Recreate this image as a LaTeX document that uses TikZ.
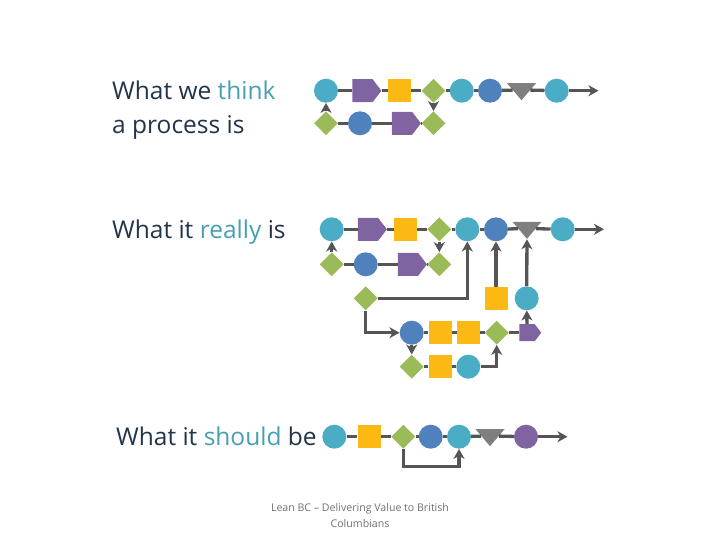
\documentclass[tikz,border=0pt]{standalone}
\usepackage{fontspec}
\setmainfont{Open Sans}
\usetikzlibrary{shapes.geometric,shapes.symbols,arrows.meta}
\definecolor{cteal}{HTML}{4BACC6}
\definecolor{cblue}{HTML}{4F81BD}
\definecolor{cpurple}{HTML}{8064A2}
\definecolor{cyellow}{HTML}{FDB913}
\definecolor{cgreen}{HTML}{9BBB59}
\definecolor{cgray}{HTML}{7F7F7F}
\definecolor{cline}{HTML}{555555}
\definecolor{ctext}{HTML}{22344A}
\definecolor{chl}{HTML}{479FB2}
\definecolor{cfoot}{HTML}{707070}
\tikzset{
  tcirc/.style={circle,fill=cteal,minimum size=24pt,inner sep=0pt},
  bcirc/.style={circle,fill=cblue,minimum size=24pt,inner sep=0pt},
  pcirc/.style={circle,fill=cpurple,minimum size=24pt,inner sep=0pt},
  ysq/.style={rectangle,fill=cyellow,minimum size=23pt,inner sep=0pt},
  gdia/.style={diamond,fill=cgreen,minimum size=24pt,inner sep=0pt},
  ppent/.style={signal,signal to=east,fill=cpurple,minimum width=29pt,minimum height=23pt,inner sep=0pt,signal pointer angle=105},
  gtri/.style={isosceles triangle,shape border rotate=-90,isosceles triangle stretches,fill=cgray,minimum width=29pt,minimum height=17pt,inner sep=0pt},
  conn/.style={draw=cline,line width=3.3pt},
  arr/.style={conn,-{Stealth[length=10pt,width=11pt,inset=3pt]}},
  lbl/.style={anchor=base west,inner sep=0pt,text=ctext,font=\fontsize{24.5}{29}\selectfont},
  foot/.style={inner sep=0pt,text=cfoot,font=\fontsize{10.6}{14}\selectfont},
}
\begin{document}
\begin{tikzpicture}[x=1pt,y=-1pt]
\useasboundingbox (0,0) rectangle (720,540);
% labels
\node[lbl] (l1a) at (112,100) {What we \textcolor{chl}{think}};
\node[lbl] (l1b) at (112,133.5) {a process is};
\node[lbl] (l2) at (112,239) {What it \textcolor{chl}{really} is};
\node[lbl] (l3) at (116,445.5) {What it \textcolor{chl}{should} be};
\node[foot] (f1) at (360,509) {Lean BC -- Delivering Value to British};
\node[foot] (f2) at (360,523.5) {Columbians};

% ---------- section 1
\node[tcirc] (a1) at (326,90.7) {};
\node[ppent] (a2) at (362.5,90.7) {};
\node[ysq] (a3) at (399.5,90.7) {};
\node[gdia] (a4) at (433.5,90.7) {};
\node[tcirc] (a5) at (461.7,90.7) {};
\node[bcirc] (a6) at (490,90.7) {};
\node[gtri] (a7) at (521.5,89.9) {};
\node[tcirc] (a8) at (556.7,90.7) {};
\coordinate (a9) at (598.5,90.7);
\node[gdia] (b1) at (326,123.3) {};
\node[bcirc] (b2) at (360,123.3) {};
\node[ppent] (b3) at (402,123.3) {};
\node[gdia] (b4) at (433.5,123.3) {};
\draw[conn] (a1) -- (a2); \draw[conn] (a2) -- (a3); \draw[conn] (a3) -- (a4);
\draw[conn] (a4) -- (a5); \draw[conn] (a5) -- (a6); \draw[conn] (a6) -- (a7);
\draw[conn] (a7) -- (a8); \draw[arr] (a8) -- (a9);
\draw[conn] (b1) -- (b2); \draw[conn] (b2) -- (b3); \draw[conn] (b3) -- (b4);
\draw[arr] (b1) -- (a1);
\draw[arr] (a4) -- (b4);

% ---------- section 2
\node[tcirc] (c1) at (331.7,229.3) {};
\node[ppent] (c2) at (368,229.3) {};
\node[ysq] (c3) at (405.3,229.3) {};
\node[gdia] (c4) at (439.3,229.3) {};
\node[tcirc] (c5) at (467.3,229.3) {};
\node[bcirc] (c6) at (496,229.3) {};
\node[gtri] (c7) at (527,228.5) {};
\node[tcirc] (c8) at (562.7,229.3) {};
\coordinate (c9) at (604,229.3);
\node[gdia] (d1) at (331.7,264.3) {};
\node[bcirc] (d2) at (365.7,264.3) {};
\node[ppent] (d3) at (408,264.3) {};
\node[gdia] (d4) at (439.3,264.3) {};
\node[gdia] (e1) at (365.7,298.3) {};
\node[ysq] (e2) at (496,298.3) {};
\node[tcirc] (e3) at (526.7,298.3) {};
\node[bcirc] (g1) at (411.7,332.7) {};
\node[ysq] (g2) at (440,332.7) {};
\node[ysq] (g3) at (468.3,332.7) {};
\node[gdia] (g4) at (496.7,332.7) {};
\node[ppent,minimum width=22pt,minimum height=17pt] (g5) at (527,332.7) {};
\node[gdia] (h1) at (411.7,366.7) {};
\node[ysq] (h2) at (440,366.7) {};
\node[tcirc] (h3) at (468.3,366.7) {};
\draw[conn] (c1) -- (c2); \draw[conn] (c2) -- (c3); \draw[conn] (c3) -- (c4);
\draw[conn] (c4) -- (c5); \draw[conn] (c5) -- (c6); \draw[conn] (c6) -- (c7);
\draw[conn] (c7) -- (c8); \draw[arr] (c8) -- (c9);
\draw[conn] (d1) -- (d2); \draw[conn] (d2) -- (d3); \draw[conn] (d3) -- (d4);
\draw[arr] (d1) -- (c1);
\draw[arr] (c4) -- (d4);
\draw[arr] (e1) -| (c5);
\draw[arr] (e2) -- (c6);
\draw[arr] (e3) -- (c7);
\draw[arr] (e1) |- (g1);
\draw[conn] (g1) -- (g2); \draw[conn] (g2) -- (g3); \draw[conn] (g3) -- (g4); \draw[conn] (g4) -- (g5);
\draw[arr] (g5) -- (e3);
\draw[arr] (g1) -- (h1);
\draw[conn] (h1) -- (h2); \draw[conn] (h2) -- (h3);
\draw[arr] (h3) -| (g4);

% ---------- section 3
\node[tcirc] (k1) at (334.3,436.7) {};
\node[ysq] (k2) at (369,436.7) {};
\node[gdia] (k3) at (403.3,436.7) {};
\node[bcirc] (k4) at (430.7,436.7) {};
\node[tcirc] (k5) at (459,436.7) {};
\node[gtri] (k6) at (490,435.9) {};
\node[pcirc] (k7) at (526,436.7) {};
\coordinate (k8) at (567.5,436.7);
\coordinate (kl) at (459,466.7);
\draw[conn] (k1) -- (k2); \draw[conn] (k2) -- (k3); \draw[conn] (k3) -- (k4);
\draw[conn] (k4) -- (k5); \draw[conn] (k5) -- (k6); \draw[conn] (k6) -- (k7);
\draw[arr] (k7) -- (k8);
\draw[arr] (k3) |- (kl) -- (k5);
\end{tikzpicture}
\end{document}
